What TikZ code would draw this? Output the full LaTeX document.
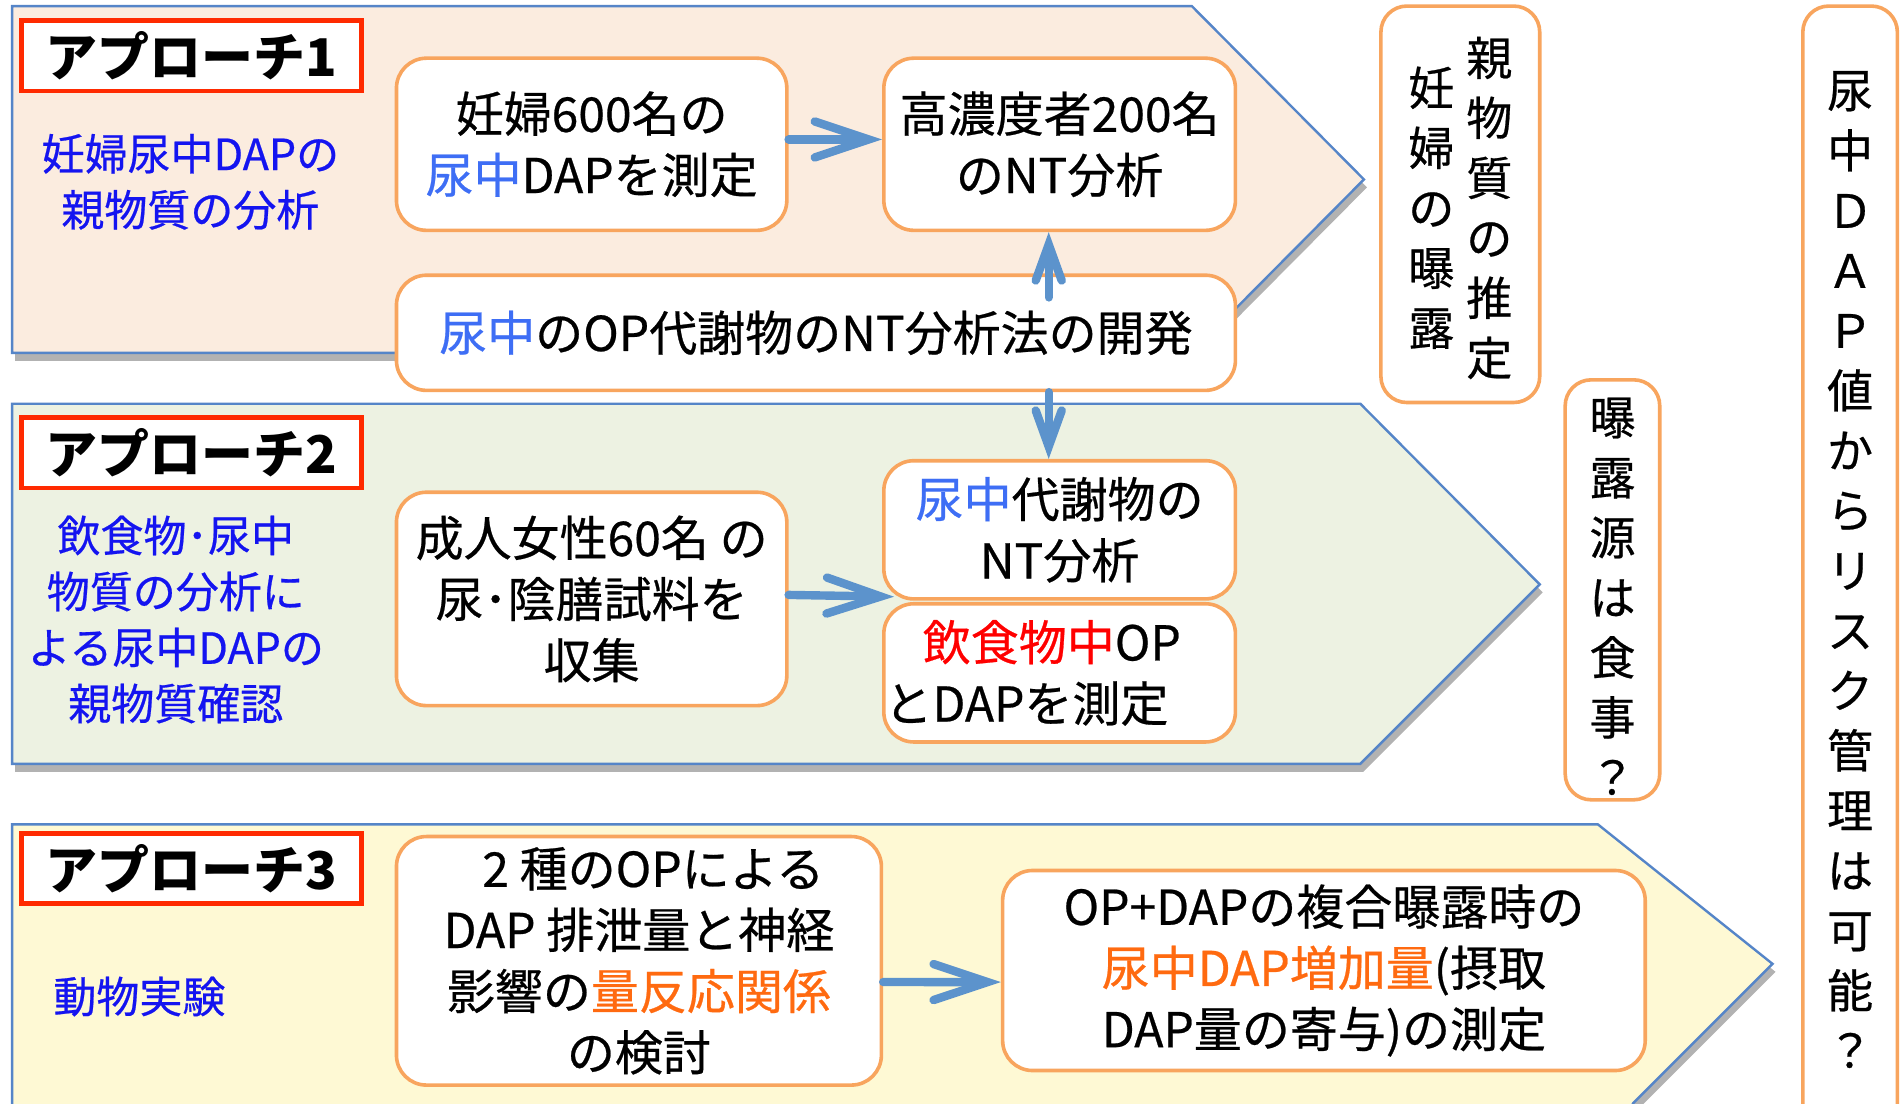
\documentclass[tikz,border=0pt]{standalone}
\usepackage{fontspec}
\usetikzlibrary{arrows.meta,shadows}
\newfontfamily\jp{Noto Sans CJK JP}[FakeBold=0.5]
\newfontfamily\jpt{Noto Sans CJK JP}
\newdimen\pxu \pxu=0.6062pt
\definecolor{pborder}{HTML}{5585C8}
\definecolor{pone}{HTML}{FBECDF}
\definecolor{ptwo}{HTML}{EDF2E2}
\definecolor{pthree}{HTML}{FEF9D4}
\definecolor{bor}{HTML}{F8A55E}
\definecolor{tred}{HTML}{FF2A00}
\definecolor{arrc}{HTML}{5C93CC}
\definecolor{tblue}{HTML}{1414F0}
\definecolor{lblue}{HTML}{3E6EF5}
\definecolor{tora}{HTML}{FF6A10}
\newcommand\lb[1]{\textcolor{lblue}{#1}}
\newcommand\vst[1]{\begin{tabular}[c]{@{}c@{}}#1\end{tabular}}
\newcommand\dropit[2]{\raisebox{-#1}[\height][\depth]{#2}}
\begin{document}
\begin{tikzpicture}[x=0.6062pt,y=-0.6062pt,
 panel/.style={draw=pborder,line width=1.2pt,line join=miter,
   drop shadow={shadow xshift=1.5pt,shadow yshift=-4pt,opacity=0.3,fill=black}},
 titlebox/.style={draw=tred,line width=2.4pt,fill=white,inner sep=0pt,
   minimum width=280*\pxu,minimum height=58*\pxu,
   font=\jpt\bfseries\fontsize{26pt}{30pt}\selectfont},
 bluetxt/.style={text=tblue,align=center,inner sep=0pt,
   font=\jp\fontsize{21.5pt}{28pt}\selectfont},
 box/.style={draw=bor,line width=1.8pt,fill=white,rounded corners=15pt,
   align=center,inner sep=0pt,font=\jp\fontsize{24pt}{30.6pt}\selectfont},
 vbox/.style={draw=bor,line width=1.8pt,fill=white,rounded corners=13pt,
   align=center,inner sep=0pt,font=\jp\fontsize{23pt}{30pt}\selectfont},
 arrh/.style={draw=arrc,line width=4.2pt,line cap=round,
   -{Straight Barb[length=27pt,width=18pt,line cap=round,line join=miter]}},
 arrv/.style={draw=arrc,line width=4.2pt,line cap=round,
   -{Straight Barb[length=18pt,width=13pt,line cap=round,line join=miter]}}
]
\useasboundingbox (0,0) rectangle (1568,910);
\fill[white] (0,0) rectangle (1568,910);

% panels
\path[panel,fill=pone] (10,5) -- (983,5) -- (1125,148) -- (983,291) -- (10,291) -- cycle;
\path[panel,fill=ptwo] (10,333) -- (1122,333) -- (1270,482) -- (1122,630) -- (10,630) -- cycle;
\path[panel,fill=pthree] (10,680) -- (1318,680) -- (1462,795) -- (1347,910) -- (1340,925) -- (10,925) -- cycle;

% titles
\node[titlebox] (T1) at (158,46) {アプローチ1};
\node[titlebox] (T2) at (158,373.5) {アプローチ2};
\node[titlebox] (T3) at (158,716.5) {アプローチ3};

% blue descriptions
\node[bluetxt] (D1) at (157,150) {妊婦尿中DAPの\\親物質の分析};
\node[bluetxt] (D2) at (145,511) {飲食物･尿中\\物質の分析に\\よる尿中DAPの\\親物質確認};
\node[bluetxt] (D3) at (115,822) {動物実験};

% boxes
\node[box,minimum width=322*\pxu,minimum height=142*\pxu] (B1) at (488,119)
  {妊婦600名の\\\lb{尿中}DAPを測定};
\node[box,minimum width=290*\pxu,minimum height=142*\pxu] (B2) at (874,119)
  {高濃度者200名\\のNT分析};
\node[box,minimum width=692*\pxu,minimum height=95*\pxu] (B3) at (673,274.5)
  {\lb{尿中}のOP代謝物のNT分析法の開発};
\node[box,minimum width=290*\pxu,minimum height=114*\pxu] (B4) at (874,437)
  {\lb{尿中}代謝物の\\NT分析};
\node[box,minimum width=290*\pxu,minimum height=114*\pxu,align=left] (B5) at (874,555)
  {\hspace*{0.8em}\textcolor{red}{飲食物中}OP\hspace*{27pt}\\とDAPを測定};
\node[box,minimum width=322*\pxu,minimum height=176*\pxu] (B6) at (488,494)
  {成人女性60名 の\\尿･陰膳試料を\\収集};
\node[box,minimum width=400*\pxu,minimum height=205*\pxu] (B7) at (527,792.5)
  {\hspace*{0.6em}2 種のOPによる\\DAP 排泄量と神経\\影響の\textcolor{tora}{量反応関係}\\の検討};
\node[box,minimum width=530*\pxu,minimum height=165*\pxu] (B8) at (1092,800.5)
  {OP+DAPの複合曝露時の\\\textcolor{tora}{尿中DAP増加量}(摂取\\DAP量の寄与)の測定};

% vertical boxes
\node[vbox,minimum width=131*\pxu,minimum height=327*\pxu] (B9) at (1204.5,168.5)
  {\dropit{4.5pt}{\vst{妊\\婦\\の\\曝\\露}\hspace{6pt}\vst{親\\物\\質\\の\\推\\定}}};
\node[vbox,minimum width=78*\pxu,minimum height=343*\pxu] (B10) at (1330,486.5)
  {\dropit{6.5pt}{\vst{曝\\露\\源\\は\\食\\事\\？}}};
\node[vbox,minimum width=78*\pxu,minimum height=935*\pxu] (B11) at (1526,472.5)
  {\dropit{1.5pt}{\vst{尿\\中\\Ｄ\\Ａ\\Ｐ\\値\\か\\ら\\リ\\ス\\ク\\管\\理\\は\\可\\能\\？}}};

% arrows
\draw[arrh] ([yshift=2.4pt]B1.east) -- ([yshift=2.4pt]B2.west);
\draw[arrv] ([xshift=-9*\pxu,yshift=-12pt]B2.south |- B3.north) -- ([xshift=-9*\pxu]B2.south);
\draw[arrv] ([xshift=-9*\pxu]B4.north |- B3.south) -- ([xshift=-9*\pxu]B4.north);
\draw[arrh] ([yshift=2pt]B6.east) -- ([xshift=6pt,yshift=2pt]B4.south west);
\draw[arrh] ([yshift=-10.6pt]B7.east) -- ([yshift=-5.8pt]B8.west);
\end{tikzpicture}
\end{document}
